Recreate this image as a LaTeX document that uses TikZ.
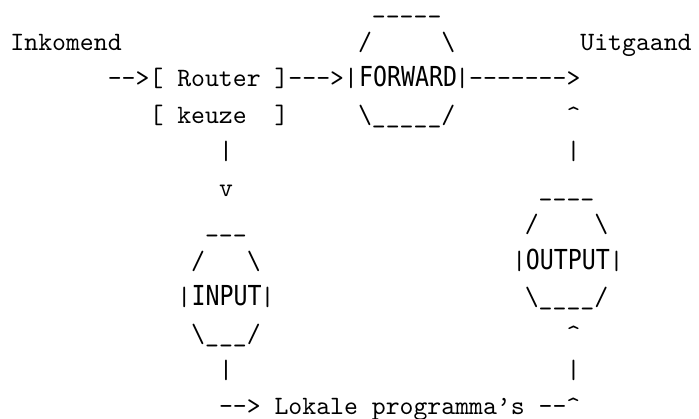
\documentclass[tikz,border=0pt]{standalone}
\usepackage{fontspec}
\newfontfamily\asciifont{lmmono10-regular.otf}
\newfontfamily\capsfont[FakeStretch=0.845,Scale=1.04]{DejaVu Sans Mono}

\begin{document}
\begin{tikzpicture}[x=5.25pt,y=-13.767pt,
  txt/.style={font=\asciifont,anchor=base west,inner sep=0pt,outer sep=0pt},
  caps/.style={font=\capsfont,anchor=base,inner sep=0pt,outer sep=0pt}]
% tekens die TeX anders leest
\newcommand{\bsl}{\char92\relax}
\newcommand{\usc}{\char95\relax}
\newcommand{\crt}{\char94\relax}
\useasboundingbox (-0.755,-0.384) rectangle (49.532,11.111);
% ---------- bovenste regels: router en FORWARD ----------
\node[txt] (inkomend) at (0,1) {Inkomend};
\node[txt] (uitgaand) at (41,1) {Uitgaand};
\node[txt] (fwtop) at (26,0) {\usc\usc\usc\usc\usc};
\node[txt] (fwsl) at (25,1) {/};
\node[txt] (fwbs) at (31,1) {\bsl};
\node[txt] (router) at (7,2) {-->[ Router ]--->};
\node[txt] (fwpl) at (24,2) {|};
\node[caps] (forward) at (28.6,2) {FORWARD};
\node[txt] (fwpr) at (32,2) {|};
\node[txt] (naaruit) at (33,2) {------->};
\node[txt] (keuze) at (10,3) {[ keuze~~]};
\node[txt] (fwbot) at (25,3) {\bsl\usc\usc\usc\usc\usc/};
\node[txt] (op1) at (40,3) {\crt};
% ---------- verticale streepjes ----------
\foreach \r in {4,10}{
  \node[txt] (lp\r) at (15,\r) {|};
  \node[txt] (rp\r) at (40,\r) {|};
}
\node[txt] (neer) at (15,5) {v};
% ---------- INPUT ----------
\node[txt] (intop) at (14,6) {\usc\usc\usc};
\node[txt] (insl) at (13,7) {/~~~\bsl};
\node[txt] (inpl) at (12,8) {|};
\node[caps] (input) at (15.55,8) {INPUT};
\node[txt] (inpr) at (18,8) {|};
\node[txt] (inbot) at (13,9) {\bsl\usc\usc\usc/};
% ---------- OUTPUT ----------
\node[txt] (outtop) at (38,5) {\usc\usc\usc\usc};
\node[txt] (outsl) at (37,6) {/~~~~\bsl};
\node[txt] (outpl) at (36.1,7) {|};
\node[caps] (output) at (40.1,7) {OUTPUT};
\node[txt] (outpr) at (43.1,7) {|};
\node[txt] (outbot) at (37,8) {\bsl\usc\usc\usc\usc/};
\node[txt] (op2) at (40,9) {\crt};
% ---------- onderste regel ----------
\node[txt] (lokaal) at (15,11) {--> Lokale programma’s --\crt};
\end{tikzpicture}
\end{document}
